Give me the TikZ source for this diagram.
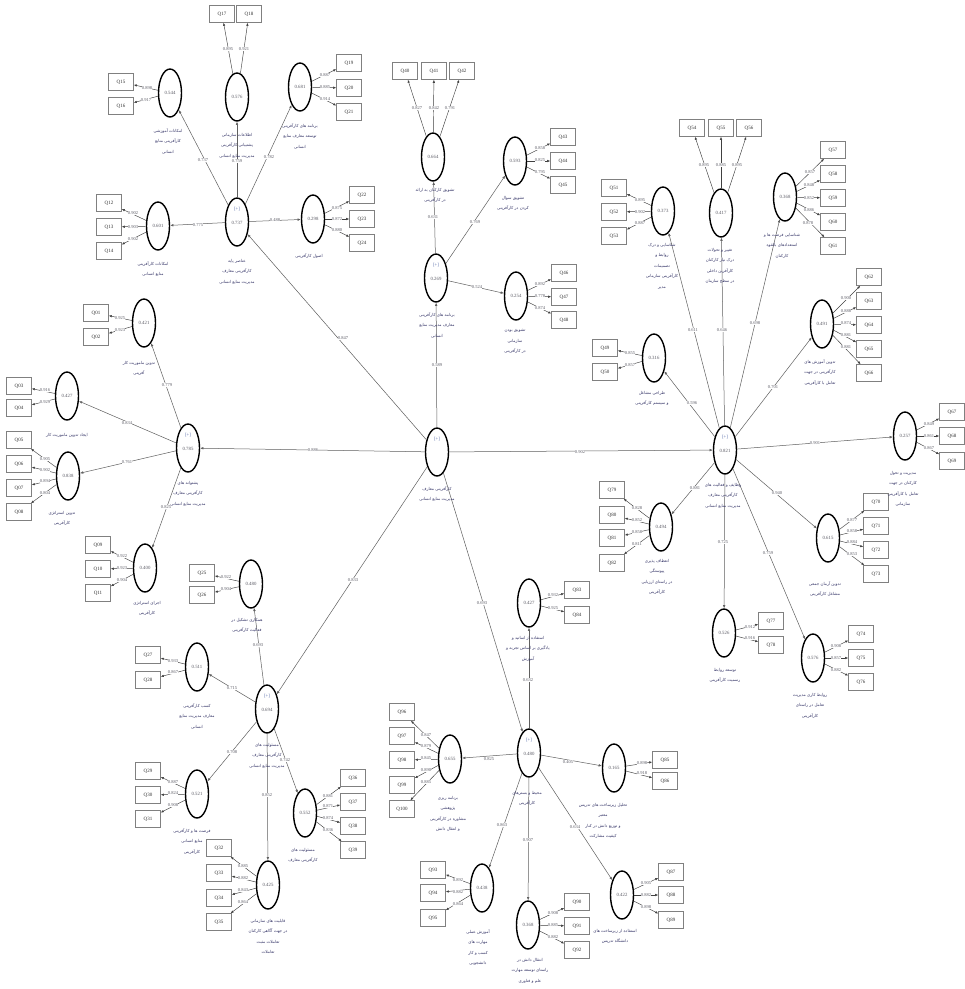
\documentclass[tikz,border=0pt]{standalone}
\usepackage{fontspec}
\setmainfont{Liberation Serif}
\newfontfamily\arabicfont[Script=Arabic]{DejaVu Sans}
\usetikzlibrary{shapes.geometric,arrows.meta}
\TeXXeTstate=1
\definecolor{labcol}{RGB}{55,55,105}
\definecolor{lncol}{RGB}{95,95,95}
\definecolor{numcol}{RGB}{90,90,100}
\definecolor{pluscol}{RGB}{90,110,170}
\newcommand\prs[1]{\beginR #1\endR}
\newcommand\qbox[5]{\node[mv] (#2) at (#3) {#2}; \draw[ld] (#1) -- (#2); \node[num] at (#5) {#4};}
\newcommand\flab[2]{\node[lab] at (#1) {#2};}
\begin{document}
\begin{tikzpicture}[x=1pt,y=-1pt,
  lv/.style={ellipse, draw=black, line width=1.4pt, minimum width=23pt, minimum height=48pt, inner sep=0pt, font=\fontsize{4.8}{5}\selectfont, text=numcol},
  vt/.style={inner sep=0pt, font=\fontsize{4.8}{5}\selectfont, text=numcol},
  pt/.style={inner sep=0pt, font=\fontsize{4.8}{5}\selectfont, text=pluscol},
  mv/.style={rectangle, draw=gray, line width=0.55pt, minimum width=25pt, minimum height=17pt, inner sep=0pt, font=\fontsize{5}{6}\selectfont, text=black!80},
  pth/.style={-{Latex[length=3.2pt,width=2.6pt]}, draw=lncol, line width=0.5pt},
  ld/.style={-{Latex[length=3pt,width=2.4pt]}, draw=black!75, line width=0.45pt},
  num/.style={fill=white, inner sep=0.4pt, font=\fontsize{4.5}{5}\selectfont, text=numcol},
  lab/.style={anchor=north, align=center, inner sep=0pt, font=\arabicfont\fontsize{4.1}{10.5}\selectfont, text=labcol}]
\fill[white] (0,0) rectangle (965,989);
\useasboundingbox (0,0) rectangle (965,989);

% ===== latent nodes =====
\node[lv] (C) at (437,452) {};
\node[pt] at (437,439) {[+]};
\node[lv] (H1) at (237,222) {};
\node[lv] (H2) at (436,278) {};
\node[lv] (H3) at (188,448) {};
\node[lv] (H4) at (725,450) {};
\node[lv] (H5) at (267,709) {};
\node[lv] (H6) at (529,753) {};
\foreach \x/\y/\v in {237/222/0.737, 436/278/0.269, 188/448/0.785, 725/450/0.821, 267/709/0.694, 529/753/0.480}{
  \node[pt] at (\x,\y-13) {[+]};
  \node[vt] at (\x,\y+1) {\v};
}

% H1 children
\node[lv] (h1a) at (170,93) {0.544};
\node[lv] (h1b) at (237,97) {0.576};
\node[lv] (h1c) at (300,87) {0.681};
\node[lv] (h1d) at (158,226) {0.601};
\node[lv] (h1e) at (313,219) {0.298};
% H2 children
\node[lv] (h2a) at (433,157) {0.664};
\node[lv] (h2b) at (515,161) {0.593};
\node[lv] (h2c) at (516,296) {0.254};
% H3 children
\node[lv] (h3a) at (144,323) {0.421};
\node[lv] (h3b) at (67,396) {0.427};
\node[lv] (h3c) at (68,476) {0.838};
\node[lv] (h3d) at (145,568) {0.400};
% H4 children
\node[lv] (h4a) at (663,211) {0.373};
\node[lv] (h4b) at (721,213) {0.417};
\node[lv] (h4c) at (785,197) {0.368};
\node[lv] (h4d) at (822,324) {0.491};
\node[lv] (h4e) at (654,358) {0.316};
\node[lv] (h4f) at (905,436) {0.257};
\node[lv] (h4g) at (828,538) {0.615};
\node[lv] (h4h) at (724,633) {0.526};
\node[lv] (h4i) at (813,658) {0.576};
\node[lv] (h4j) at (661,527) {0.494};
% H5 children
\node[lv] (h5a) at (251,584) {0.480};
\node[lv] (h5b) at (197,667) {0.511};
\node[lv] (h5c) at (197,794) {0.521};
\node[lv] (h5d) at (305,813) {0.552};
\node[lv] (h5e) at (268,885) {0.425};
% H6 children
\node[lv] (h6a) at (529,603) {0.427};
\node[lv] (h6b) at (450,759) {0.655};
\node[lv] (h6c) at (614,768) {0.165};
\node[lv] (h6d) at (482,888) {0.438};
\node[lv] (h6e) at (528,925) {0.368};
\node[lv] (h6f) at (622,895) {0.422};

% ===== structural paths =====
\draw[pth] (C) -- (H1); \node[num] at (343,338) {0.847};
\draw[pth] (C) -- (H2); \node[num] at (437,365) {0.589};
\draw[pth] (C) -- (H3); \node[num] at (313,450) {0.886};
\draw[pth] (C) -- (H4); \node[num] at (580,452) {0.902};
\draw[pth] (C) -- (H5); \node[num] at (353,580) {0.833};
\draw[pth] (C) -- (H6); \node[num] at (482,603) {0.693};

\draw[pth] (H1) -- (h1a); \node[num] at (203,160) {0.737};
\draw[pth] (H1) -- (h1b); \node[num] at (237,161) {0.759};
\draw[pth] (H1) -- (h1c); \node[num] at (269,157) {0.782};
\draw[pth] (H1) -- (h1d); \node[num] at (198,225) {0.775};
\draw[pth] (H1) -- (h1e); \node[num] at (275,220) {0.488};

\draw[pth] (H2) -- (h2a); \node[num] at (433,217) {0.631};
\draw[pth] (H2) -- (h2b); \node[num] at (475,222) {0.769};
\draw[pth] (H2) -- (h2c); \node[num] at (477,287) {0.524};

\draw[pth] (H3) -- (h3a); \node[num] at (167,385) {0.779};
\draw[pth] (H3) -- (h3b); \node[num] at (127,423) {0.834};
\draw[pth] (H3) -- (h3c); \node[num] at (127,462) {0.761};
\draw[pth] (H3) -- (h3d); \node[num] at (166,507) {0.825};

\draw[pth] (H4) -- (h4a); \node[num] at (693,330) {0.611};
\draw[pth] (H4) -- (h4b); \node[num] at (722,330) {0.646};
\draw[pth] (H4) -- (h4c); \node[num] at (755,323) {0.698};
\draw[pth] (H4) -- (h4d); \node[num] at (773,387) {0.701};
\draw[pth] (H4) -- (h4e); \node[num] at (692,403) {0.596};
\draw[pth] (H4) -- (h4f); \node[num] at (815,443) {0.901};
\draw[pth] (H4) -- (h4g); \node[num] at (777,493) {0.940};
\draw[pth] (H4) -- (h4h); \node[num] at (723,542) {0.725};
\draw[pth] (H4) -- (h4i); \node[num] at (768,553) {0.759};
\draw[pth] (H4) -- (h4j); \node[num] at (695,488) {0.881};

\draw[pth] (H5) -- (h5a); \node[num] at (258,645) {0.693};
\draw[pth] (H5) -- (h5b); \node[num] at (232,688) {0.715};
\draw[pth] (H5) -- (h5c); \node[num] at (232,752) {0.708};
\draw[pth] (H5) -- (h5d); \node[num] at (285,760) {0.742};
\draw[pth] (H5) -- (h5e); \node[num] at (267,795) {0.852};

\draw[pth] (H6) -- (h6a); \node[num] at (528,680) {0.632};
\draw[pth] (H6) -- (h6b); \node[num] at (489,759) {0.825};
\draw[pth] (H6) -- (h6c); \node[num] at (568,762) {0.405};
\draw[pth] (H6) -- (h6d); \node[num] at (502,825) {0.863};
\draw[pth] (H6) -- (h6e); \node[num] at (528,840) {0.907};
\draw[pth] (H6) -- (h6f); \node[num] at (575,827) {0.634};

% ===== indicators =====
\qbox{h1a}{Q15}{121,82}{0.898}{147,88}
\qbox{h1a}{Q16}{121,106}{0.917}{146,100}
\qbox{h1b}{Q17}{222,14}{0.895}{228,49}
\qbox{h1b}{Q18}{249,14}{0.921}{244,49}
\qbox{h1c}{Q19}{349,63}{0.887}{325,75}
\qbox{h1c}{Q20}{349,88}{0.885}{325,87}
\qbox{h1c}{Q21}{349,112}{0.914}{325,99}
\qbox{h1d}{Q12}{109,203}{0.902}{133,213}
\qbox{h1d}{Q13}{109,227}{0.903}{133,227}
\qbox{h1d}{Q14}{109,251}{0.902}{133,239}
\qbox{h1e}{Q22}{362,195}{0.875}{337,208}
\qbox{h1e}{Q23}{362,219}{0.872}{337,219}
\qbox{h1e}{Q24}{362,243}{0.880}{337,230}

\qbox{h2a}{Q40}{405,71}{0.827}{417,108}
\qbox{h2a}{Q41}{434,71}{0.842}{434,108}
\qbox{h2a}{Q42}{462,71}{0.791}{450,108}
\qbox{h2b}{Q43}{563,137}{0.858}{540,148}
\qbox{h2b}{Q44}{563,161}{0.825}{540,160}
\qbox{h2b}{Q45}{563,185}{0.795}{540,172}
\qbox{h2c}{Q46}{564,273}{0.892}{540,284}
\qbox{h2c}{Q47}{564,297}{0.778}{540,296}
\qbox{h2c}{Q48}{564,320}{0.874}{540,308}

\qbox{h3a}{Q01}{96,313}{0.925}{120,318}
\qbox{h3a}{Q02}{96,337}{0.923}{120,330}
\qbox{h3b}{Q03}{19,386}{0.916}{45,390}
\qbox{h3b}{Q04}{19,408}{0.929}{45,402}
\qbox{h3c}{Q05}{19,440}{0.905}{45,459}
\qbox{h3c}{Q06}{19,464}{0.902}{45,470}
\qbox{h3c}{Q07}{19,488}{0.894}{45,481}
\qbox{h3c}{Q08}{19,512}{0.804}{45,493}
\qbox{h3d}{Q09}{98,545}{0.922}{122,556}
\qbox{h3d}{Q10}{98,569}{0.923}{122,568}
\qbox{h3d}{Q11}{98,593}{0.904}{122,580}

\qbox{h4a}{Q51}{614,188}{0.895}{640,200}
\qbox{h4a}{Q52}{614,212}{0.902}{640,212}
\qbox{h4a}{Q53}{614,236}{0.887}{640,223}
\qbox{h4b}{Q54}{692,128}{0.895}{704,165}
\qbox{h4b}{Q55}{721,128}{0.885}{721,165}
\qbox{h4b}{Q56}{749,128}{0.895}{737,165}
\qbox{h4c}{Q57}{833,150}{0.857}{810,172}
\qbox{h4c}{Q58}{833,174}{0.848}{809,185}
\qbox{h4c}{Q59}{833,198}{0.852}{809,198}
\qbox{h4c}{Q60}{833,222}{0.886}{809,210}
\qbox{h4c}{Q61}{833,246}{0.878}{808,223}
\qbox{h4d}{Q62}{869,277}{0.900}{846,298}
\qbox{h4d}{Q63}{869,301}{0.888}{846,311}
\qbox{h4d}{Q64}{869,325}{0.874}{846,323}
\qbox{h4d}{Q65}{869,349}{0.881}{846,335}
\qbox{h4d}{Q66}{869,373}{0.881}{846,347}
\qbox{h4e}{Q49}{605,348}{0.855}{630,353}
\qbox{h4e}{Q50}{605,372}{0.857}{630,365}
\qbox{h4f}{Q67}{952,412}{0.849}{929,424}
\qbox{h4f}{Q68}{952,436}{0.861}{929,436}
\qbox{h4f}{Q69}{952,461}{0.867}{929,448}
\qbox{h4g}{Q70}{876,502}{0.877}{852,520}
\qbox{h4g}{Q71}{876,526}{0.858}{852,531}
\qbox{h4g}{Q72}{876,550}{0.884}{852,542}
\qbox{h4g}{Q73}{876,574}{0.853}{852,554}
\qbox{h4h}{Q77}{771,621}{0.912}{750,627}
\qbox{h4h}{Q78}{771,645}{0.916}{750,638}
\qbox{h4i}{Q74}{861,634}{0.908}{836,646}
\qbox{h4i}{Q75}{861,658}{0.857}{836,658}
\qbox{h4i}{Q76}{861,682}{0.882}{836,670}
\qbox{h4j}{Q79}{612,490}{0.828}{637,508}
\qbox{h4j}{Q80}{612,515}{0.852}{637,520}
\qbox{h4j}{Q81}{612,538}{0.858}{637,532}
\qbox{h4j}{Q82}{612,563}{0.811}{637,544}

\qbox{h5a}{Q25}{202,573}{0.922}{226,577}
\qbox{h5a}{Q26}{202,595}{0.904}{226,589}
\qbox{h5b}{Q27}{148,655}{0.933}{173,661}
\qbox{h5b}{Q28}{148,680}{0.867}{173,672}
\qbox{h5c}{Q29}{148,771}{0.887}{173,782}
\qbox{h5c}{Q30}{148,795}{0.824}{173,793}
\qbox{h5c}{Q31}{148,819}{0.908}{173,805}
\qbox{h5d}{Q36}{353,778}{0.881}{328,796}
\qbox{h5d}{Q37}{353,802}{0.871}{328,806}
\qbox{h5d}{Q38}{353,826}{0.874}{328,818}
\qbox{h5d}{Q39}{353,850}{0.836}{328,830}
\qbox{h5e}{Q32}{219,848}{0.885}{243,866}
\qbox{h5e}{Q33}{219,873}{0.882}{243,878}
\qbox{h5e}{Q34}{219,898}{0.843}{243,890}
\qbox{h5e}{Q35}{219,922}{0.864}{243,902}

\qbox{h6a}{Q83}{577,590}{0.932}{553,595}
\qbox{h6a}{Q84}{577,615}{0.925}{553,608}
\qbox{h6b}{Q96}{402,712}{0.847}{426,735}
\qbox{h6b}{Q97}{402,736}{0.879}{426,746}
\qbox{h6b}{Q98}{402,760}{0.845}{426,758}
\qbox{h6b}{Q99}{402,785}{0.890}{426,770}
\qbox{h6b}{Q100}{402,809}{0.885}{426,782}
\qbox{h6c}{Q85}{665,760}{0.898}{642,763}
\qbox{h6c}{Q86}{665,781}{0.918}{642,773}
\qbox{h6d}{Q93}{433,870}{0.892}{458,880}
\qbox{h6d}{Q94}{433,893}{0.882}{458,892}
\qbox{h6d}{Q95}{433,918}{0.864}{458,904}
\qbox{h6e}{Q90}{577,902}{0.908}{553,913}
\qbox{h6e}{Q91}{577,926}{0.885}{553,925}
\qbox{h6e}{Q92}{577,950}{0.882}{553,937}
\qbox{h6f}{Q87}{671,872}{0.905}{646,883}
\qbox{h6f}{Q88}{671,895}{0.882}{646,895}
\qbox{h6f}{Q89}{671,920}{0.898}{646,907}

% ===== labels =====
\flab{437,486}{\prs{کارآفرینی معارف}\\\prs{مدیریت منابع انسانی}}
\flab{237,259}{\prs{عناصر پایه}\\\prs{کارآفرینی معارف}\\\prs{مدیریت منابع انسانی}}
\flab{168,128}{\prs{امکانات آموزشی}\\\prs{کارآفرینی منابع}\\\prs{انسانی}}
\flab{237,133}{\prs{اطلاعات سازمانی}\\\prs{پشتیبانی کارآفرینی}\\\prs{مدیریت منابع انسانی}}
\flab{300,123}{\prs{برنامه های کارآفرینی}\\\prs{توسعه معارف منابع}\\\prs{انسانی}}
\flab{153,261}{\prs{امکانات کارآفرینی}\\\prs{منابع انسانی}}
\flab{309,253}{\prs{اصول کارآفرینی}}
\flab{437,312}{\prs{برنامه های کارآفرینی}\\\prs{معارف مدیریت منابع}\\\prs{انسانی}}
\flab{435,188}{\prs{تشویق کارکنان به ارائه}\\\prs{در کارآفرینی}}
\flab{513,196}{\prs{تشویق سوال}\\\prs{کردن در کارآفرینی}}
\flab{515,329}{\prs{تشویق بودن}\\\prs{سازمانی}\\\prs{در کارآفرینی}}
\flab{188,481}{\prs{پشتوانه های}\\\prs{کارآفرینی معارف}\\\prs{مدیریت منابع انسانی}}
\flab{139,361}{\prs{تدوین ماموریت کار}\\\prs{آفرینی}}
\flab{67,433}{\prs{ایجاد تدوین ماموریت کار}}
\flab{62,511}{\prs{تدوین استراتژی}\\\prs{کارآفرینی}}
\flab{147,601}{\prs{اجرای استراتژی}\\\prs{کارآفرینی}}
\flab{723,483}{\prs{وظایف و فعالیت های}\\\prs{کارآفرینی معارف}\\\prs{مدیریت منابع انسانی}}
\flab{662,243}{\prs{شناسایی و درک}\\\prs{روابط و}\\\prs{تصمیمات}\\\prs{کارآفرینی سازمانی}\\\prs{مدیر}}
\flab{720,248}{\prs{تغییر و تحولات}\\\prs{درک نیاز کارکنان}\\\prs{کارآفرین داخلی}\\\prs{در سطح سازمان}}
\flab{782,233}{\prs{شناسایی فرصت ها و}\\\prs{استعدادهای بالقوه}\\\prs{کارکنان}}
\flab{820,359}{\prs{تدوین آموزش های}\\\prs{کارآفرینی در جهت}\\\prs{تعامل با کارآفرینی}}
\flab{652,391}{\prs{طراحی مشاغل}\\\prs{و سیستم کارآفرینی}}
\flab{903,471}{\prs{مدیریت و تحول}\\\prs{کارکنان در جهت}\\\prs{تعامل با کارآفرینی}\\\prs{سازمانی}}
\flab{825,581}{\prs{تدوین آرمان جمعی}\\\prs{مشاغل کارآفرینی}}
\flab{725,668}{\prs{توسعه روابط}\\\prs{رسمیت کارآفرینی}}
\flab{810,693}{\prs{روابط کاری مدیریت}\\\prs{تعامل در راستای}\\\prs{کارآفرینی}}
\flab{657,559}{\prs{انعطاف پذیری}\\\prs{پیوستگی}\\\prs{در راستای ارزیابی}\\\prs{کارآفرینی}}
\flab{267,743}{\prs{مسئولیت های}\\\prs{کارآفرینی معارف}\\\prs{مدیریت منابع انسانی}}
\flab{247,618}{\prs{همکاری تشکیل در}\\\prs{فعالیت کارآفرینی}}
\flab{197,703}{\prs{کسب کارآفرینی}\\\prs{معارف مدیریت منابع}\\\prs{انسانی}}
\flab{192,828}{\prs{فرصت ها و کارآفرینی}\\\prs{منابع انسانی}\\\prs{کارآفرینی}}
\flab{303,848}{\prs{مسئولیت های}\\\prs{کارآفرینی معارف}}
\flab{268,919}{\prs{قابلیت های سازمانی}\\\prs{در جهت آگاهی کارکنان}\\\prs{تعاملات مثبت}\\\prs{تعاملات}}
\flab{527,791}{\prs{محیط و بسترهای}\\\prs{کارآفرینی}}
\flab{528,636}{\prs{استفاده از اساتید و}\\\prs{یادگیری بر اساس تجربه و}\\\prs{آموزش}}
\flab{448,796}{\prs{برنامه ریزی}\\\prs{پژوهشی}\\\prs{مشاوره در کارآفرینی}\\\prs{و انتقال دانش}}
\flab{603,803}{\prs{تحلیل زیرساخت های تدریس}\\\prs{معتبر}\\\prs{و توزیع دانش در کنار}\\\prs{کیفیت مشارکت}}
\flab{478,929}{\prs{آموزش عملی}\\\prs{مهارت های}\\\prs{کسب و کار}\\\prs{دانشجویی}}
\flab{530,958}{\prs{انتقال دانش در}\\\prs{راستای توسعه مهارت}\\\prs{علم و فناوری}}
\flab{615,929}{\prs{استفاده از زیرساخت های}\\\prs{دانشگاه تدریس}}
\end{tikzpicture}
\end{document}
